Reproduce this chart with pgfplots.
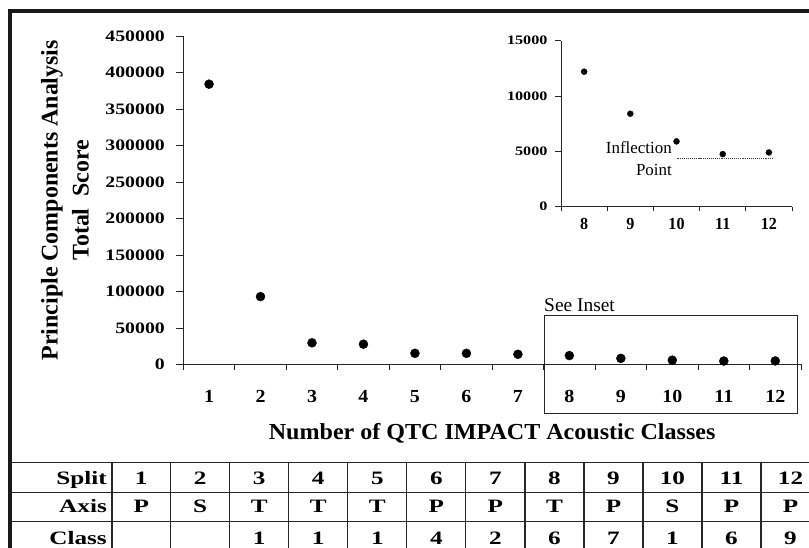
\documentclass[border=0pt]{standalone}
\usepackage{pgfplots}
\pgfplotsset{compat=1.18}
\usepackage{graphicx}
\usepackage{fontspec}
\setmainfont{Liberation Serif}

\pgfplotsset{
  sketchaxis/.style={
    scale only axis, anchor=south west,
    axis x line=bottom, axis y line=left,
    axis line style={-, black!85, line width=0.9bp},
    tick style={black!85, line width=0.9bp},
    tick align=outside,
    major tick length=7bp, minor tick length=5.5bp,
    major x tick style={draw=none},
    scaled y ticks=false,
    clip=false,
  }
}
\newcommand{\plainnum}[1]{\pgfmathprintnumber[fixed,precision=0,1000 sep={},assume math mode=true]{#1}}

\begin{document}
\begin{tikzpicture}[x=1bp,y=1bp]
\useasboundingbox (0,0) rectangle (809,548);

% main scree plot
\begin{axis}[sketchaxis,
  at={(183.3bp,183.5bp)}, width=617.7bp, height=328.5bp,
  xmin=0.5, xmax=12.5, ymin=0, ymax=450000,
  xtick={1,...,12}, minor xtick={0.5,1.5,...,12.5},
  ytick={0,50000,...,450000},
  xticklabel={\scalebox{1.08}[1]{\plainnum{\tick}}},
  yticklabel={\scalebox{1.24}[1]{\plainnum{\tick}}},
  xticklabel style={font=\fontsize{18.5}{22}\selectfont\bfseries, yshift=-15.5bp},
  yticklabel style={font=\fontsize{16}{18}\selectfont\bfseries, xshift=-8bp},
  xlabel={\scalebox{1.05}[1]{Number of QTC IMPACT Acoustic Classes}},
  xlabel style={font=\fontsize{23}{26}\selectfont\bfseries, at={(axis description cs:0.5,-0.2096)}, anchor=center},
  ylabel={Principle Components Analysis\\Total~~Score},
  ylabel style={align=center, font=\fontsize{24}{31}\selectfont\bfseries, at={(axis description cs:-0.1916,0.5)}, anchor=center},
]
\addplot[only marks, mark=*, mark size=4.5bp, black] coordinates {
  (1,384000) (2,93000) (3,29700) (4,27800) (5,15300) (6,15300)
  (7,14000) (8,12200) (9,8400) (10,5900) (11,4750) (12,4900)
};
\end{axis}

% inset
\begin{axis}[sketchaxis,
  at={(561bp,341.3bp)}, width=231bp, height=166bp,
  major tick length=6bp, minor tick length=4.5bp,
  xmin=7.5, xmax=12.5, ymin=0, ymax=15000,
  xtick={8,...,12}, minor xtick={7.5,8.5,...,12.5},
  ytick={0,5000,10000,15000},
  xticklabel={\scalebox{0.95}[1]{\plainnum{\tick}}},
  yticklabel={\scalebox{1.25}[1]{\plainnum{\tick}}},
  xticklabel style={font=\fontsize{17}{20}\selectfont\bfseries, yshift=-2bp},
  yticklabel style={font=\fontsize{13}{15}\selectfont\bfseries, xshift=-4bp},
]
\addplot[only marks, mark=*, mark size=3bp, black] coordinates {
  (8,12200) (9,8400) (10,5900) (11,4750) (12,4900)
};
\addplot[black!75, densely dotted, line width=1.1bp] coordinates {(10.02,4370) (12.1,4370)};
\node[align=right, anchor=east, inner sep=0pt, font=\fontsize{17}{22}\selectfont]
  at (axis cs:9.903,4310) {Inflection\\Point};
\end{axis}

% "See Inset" box
\draw[black!85, line width=0.9bp] (544,134.7) rectangle (797,232.3);
\node[anchor=base west, inner sep=0pt, font=\fontsize{19.5}{22}\selectfont] at (544,236.3) {See Inset};

% outer frame
\draw[black!90, line width=3.3bp] (10,-10) -- (10,537) -- (830,537);

% table
\draw[black!85, line width=1.2bp] (10,85.7) -- (830,85.7);
\draw[black!85, line width=1.2bp] (10,55.7) -- (830,55.7);
\draw[black!85, line width=1.2bp] (10,26.3) -- (830,26.3);
\draw[black!85, line width=2.2bp] (111.7,-10) -- (111.7,85.7);
\foreach \k in {1,...,12}{
  \draw[black!85, line width=1.2bp] (111.7+59.03*\k,-10) -- (111.7+59.03*\k,85.7);
}
\tikzset{tabtext/.style={anchor=base, inner sep=0pt, font=\fontsize{19}{22}\selectfont\bfseries}}
\node[tabtext, anchor=base east] at (107,63.7) {\scalebox{1.33}[1]{Split}};
\node[tabtext, anchor=base east] at (107,35) {\scalebox{1.33}[1]{Axis}};
\node[tabtext, anchor=base east] at (107,3.5) {\scalebox{1.33}[1]{Class}};
\foreach \s/\a/\c [count=\k from 0] in {1/P/{},2/S/{},3/T/1,4/T/1,5/T/1,6/P/4,7/P/2,8/T/6,9/P/7,10/S/1,11/P/6,12/P/9}{
  \node[tabtext] at (111.7+59.03*\k+29.5,63.7) {\scalebox{1.33}[1]{\s}};
  \node[tabtext] at (111.7+59.03*\k+29.5,35) {\scalebox{1.33}[1]{\a}};
  \node[tabtext] at (111.7+59.03*\k+29.5,3.5) {\scalebox{1.33}[1]{\c}};
}
\end{tikzpicture}
\end{document}
